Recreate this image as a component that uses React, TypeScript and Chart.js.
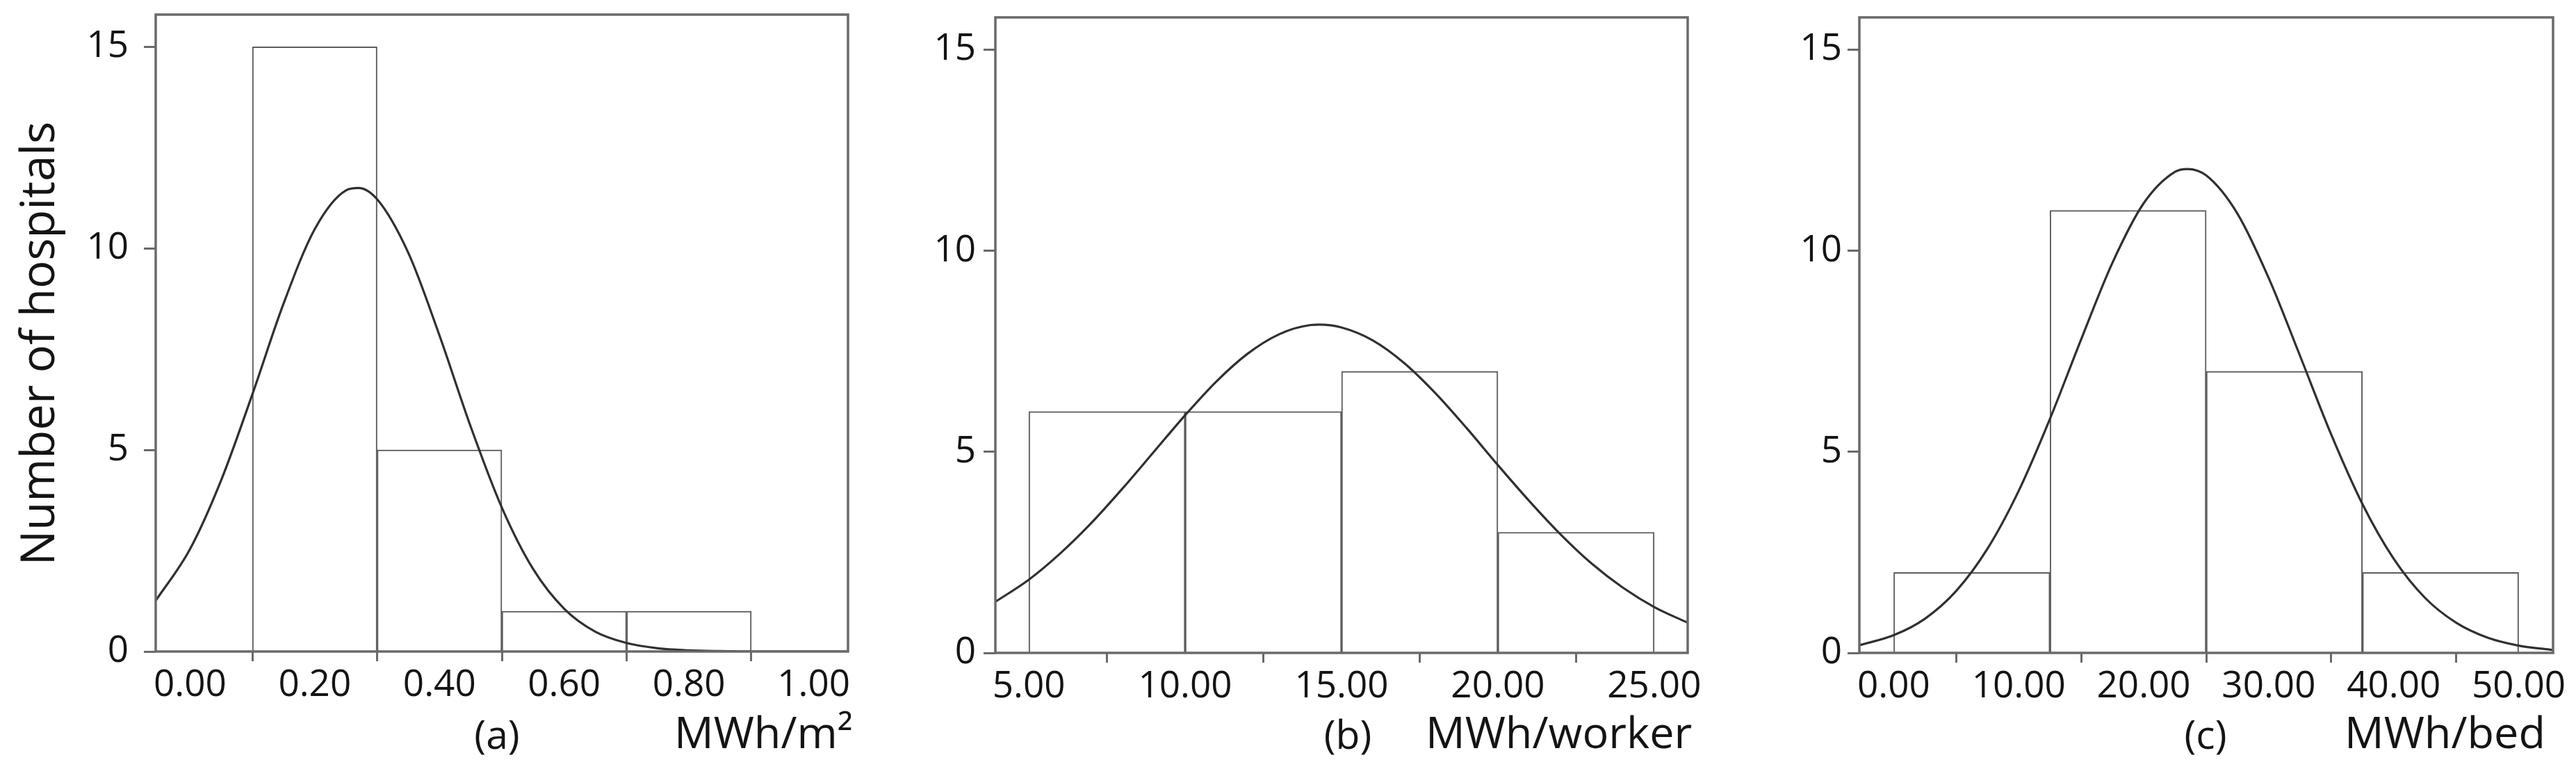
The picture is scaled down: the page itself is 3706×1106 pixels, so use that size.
import React, { useEffect, useRef } from "react";
import { Chart, registerables } from "chart.js";

Chart.register(...registerables);

// ---------- DATA ----------
// Panel (a): energy per floor area (MWh/m²)
const A_BIN_CENTERS = [0.2, 0.4, 0.6, 0.8];
const A_COUNTS = [15, 5, 1, 1];
const A_CURVE_X = [-0.055, 0.0, 0.05, 0.1, 0.15, 0.2, 0.25, 0.27, 0.3, 0.35, 0.4, 0.45, 0.5, 0.55, 0.6, 0.65, 0.7, 0.75, 0.8, 0.85, 0.9, 0.95, 1.0, 1.055];
const A_CURVE_Y = [1.26, 2.54, 4.25, 6.38, 8.63, 10.48, 11.44, 11.5, 11.22, 9.89, 7.84, 5.58, 3.57, 2.05, 1.06, 0.49, 0.21, 0.08, 0.03, 0.01, 0.0, 0.0, 0.0, 0.0];
const A_X_TICKS = [0, 0.2, 0.4, 0.6, 0.8, 1.0];

// Panel (b): energy per worker (MWh/worker)
const B_BIN_CENTERS = [7.5, 12.5, 17.5, 22.5];
const B_COUNTS = [6, 6, 7, 3];
const B_CURVE_X = [3.93, 5, 6, 7, 8, 9, 10, 11, 12, 13, 14, 14.3, 15, 16, 17, 18, 19, 20, 21, 22, 23, 24, 25, 26.07];
const B_CURVE_Y = [1.27, 1.82, 2.47, 3.23, 4.09, 5.0, 5.91, 6.75, 7.44, 7.92, 8.15, 8.16, 8.09, 7.77, 7.21, 6.46, 5.59, 4.67, 3.78, 2.95, 2.22, 1.62, 1.14, 0.75];
const B_X_TICKS = [5, 10, 15, 20, 25];

// Panel (c): energy per bed (MWh/bed)
const C_BIN_CENTERS = [6.25, 18.75, 31.25, 43.75];
const C_COUNTS = [2, 11, 7, 2];
const C_CURVE_X = [-2.75, 0, 2.5, 5, 7.5, 10, 12.5, 15, 17.5, 20, 22.5, 23.5, 25, 27.5, 30, 32.5, 35, 37.5, 40, 42.5, 45, 47.5, 50, 52.5, 52.75];
const C_CURVE_Y = [0.19, 0.44, 0.85, 1.54, 2.59, 4.03, 5.82, 7.8, 9.7, 11.18, 11.96, 12.03, 11.87, 10.92, 9.32, 7.39, 5.43, 3.7, 2.34, 1.37, 0.75, 0.38, 0.18, 0.08, 0.07];
const C_X_TICKS = [0, 10, 20, 30, 40, 50];

const Y_TICKS = [0, 5, 10, 15];
const Y_MAX = 15.8;
const Y_TITLE = "Number of hospitals";
const PANEL_LETTERS = ["(a)", "(b)", "(c)"];
const UNITS = ["MWh/m²", "MWh/worker", "MWh/bed"];

// ---------- STYLE / LAYOUT ----------
const H = 1106;
const FONT = "'Open Sans', 'DejaVu Sans', sans-serif";
const TEXT = "#141414";
const FRAME = "#6a6a6a";
const BAR_LINE = "#5c5c5c";
const CURVE = "#303030";

type TextItem = { text: string; x: number; y: number; size: number; align: CanvasTextAlign; rotate?: boolean };

type PanelCfg = {
  left: number;
  width: number;
  chartLeft: number;
  chartRight: number;
  chartTop: number;
  chartBottom: number;
  xMin: number;
  xMax: number;
  xTicks: number[];
  centers: number[];
  counts: number[];
  curveX: number[];
  curveY: number[];
  yPad: number;
  texts: TextItem[];
};

const PANELS: PanelCfg[] = [
  {
    left: 0, width: 1300,
    chartLeft: 224, chartRight: 1220, chartTop: 21, chartBottom: 937,
    xMin: -0.055, xMax: 1.055, xTicks: A_X_TICKS,
    centers: A_BIN_CENTERS, counts: A_COUNTS, curveX: A_CURVE_X, curveY: A_CURVE_Y,
    yPad: 22,
    texts: [
      { text: Y_TITLE, x: 78, y: 494, size: 67, align: "center", rotate: true },
      { text: PANEL_LETTERS[0], x: 715, y: 1077, size: 57, align: "center" },
      { text: UNITS[0], x: 970, y: 1076, size: 63, align: "left" },
    ],
  },
  {
    left: 1300, width: 1250,
    chartLeft: 132, chartRight: 1128, chartTop: 25, chartBottom: 939,
    xMin: 3.93, xMax: 26.07, xTicks: B_X_TICKS,
    centers: B_BIN_CENTERS, counts: B_COUNTS, curveX: B_CURVE_X, curveY: B_CURVE_Y,
    yPad: 11,
    texts: [
      { text: PANEL_LETTERS[1], x: 1939 - 1300, y: 1077, size: 57, align: "center" },
      { text: UNITS[1], x: 2051 - 1300, y: 1076, size: 63, align: "left" },
    ],
  },
  {
    left: 2550, width: 1156,
    chartLeft: 125, chartRight: 1123, chartTop: 25, chartBottom: 939,
    xMin: -2.75, xMax: 52.75, xTicks: C_X_TICKS,
    centers: C_BIN_CENTERS, counts: C_COUNTS, curveX: C_CURVE_X, curveY: C_CURVE_Y,
    yPad: 8,
    texts: [
      { text: PANEL_LETTERS[2], x: 3173 - 2550, y: 1077, size: 57, align: "center" },
      { text: UNITS[2], x: 3373 - 2550, y: 1076, size: 63, align: "left" },
    ],
  },
];

function makeDecor(cfg: PanelCfg) {
  return {
    id: "panelDecor",
    afterDatasetsDraw(chart: any) {
      const { ctx, chartArea } = chart;
      const { left, top, right, bottom } = chartArea;
      ctx.save();
      ctx.strokeStyle = FRAME;
      ctx.lineWidth = 3.5;
      ctx.strokeRect(left, top, right - left, bottom - top);
      ctx.restore();
    },
    afterDraw(chart: any) {
      const ctx: CanvasRenderingContext2D = chart.ctx;
      ctx.save();
      ctx.fillStyle = TEXT;
      ctx.textBaseline = "alphabetic";
      for (const t of cfg.texts) {
        ctx.font = `${t.size}px ${FONT}`;
        ctx.textAlign = t.align;
        if (t.rotate) {
          ctx.save();
          ctx.translate(t.x, t.y);
          ctx.rotate(-Math.PI / 2);
          ctx.fillText(t.text, 0, 0);
          ctx.restore();
        } else {
          ctx.fillText(t.text, t.x, t.y);
        }
      }
      ctx.restore();
    },
  };
}

function Panel({ cfg }: { cfg: PanelCfg }) {
  const ref = useRef<HTMLCanvasElement>(null);
  useEffect(() => {
    const canvas = ref.current;
    if (!canvas) return;
    const barData = cfg.centers.map((c, i) => ({ x: c, y: cfg.counts[i] }));
    const curveData = cfg.curveX.map((x, i) => ({ x, y: cfg.curveY[i] }));
    const chart = new Chart(canvas, {
      type: "bar",
      data: {
        datasets: [
          {
            type: "line",
            data: curveData,
            borderColor: CURVE,
            borderWidth: 3.2,
            pointRadius: 0,
            fill: false,
            cubicInterpolationMode: "monotone",
            order: 0,
          } as any,
          {
            type: "bar",
            data: barData,
            backgroundColor: "#ffffff",
            borderColor: BAR_LINE,
            borderWidth: 2,
            borderSkipped: "start",
            barThickness: "flex",
            barPercentage: 1,
            categoryPercentage: 1,
            order: 1,
          } as any,
        ],
      },
      options: {
        animation: false,
        responsive: false,
        maintainAspectRatio: false,
        layout: {
          padding: { left: 0, top: cfg.chartTop, right: cfg.width - cfg.chartRight, bottom: 0 },
        },
        plugins: {
          legend: { display: false },
          tooltip: { enabled: false },
          title: { display: false },
        },
        scales: {
          x: {
            type: "linear",
            min: cfg.xMin,
            max: cfg.xMax,
            offset: false,
            afterBuildTicks: (s: any) => {
              s.ticks = cfg.xTicks.map((v) => ({ value: v }));
            },
            afterFit: (s: any) => {
              s.height = H - cfg.chartBottom;
              s.paddingLeft = 0;
              s.paddingRight = 0;
            },
            ticks: {
              autoSkip: false,
              maxRotation: 0,
              minRotation: 0,
              padding: 3,
              color: TEXT,
              font: { family: FONT, size: 53 },
              callback: (v: any) => Number(v).toFixed(2),
            },
            grid: {
              drawOnChartArea: false,
              drawTicks: true,
              tickLength: 14,
              tickWidth: 3,
              tickColor: FRAME,
            },
            border: { display: false },
          },
          y: {
            type: "linear",
            min: 0,
            max: Y_MAX,
            afterBuildTicks: (s: any) => {
              s.ticks = Y_TICKS.map((v) => ({ value: v }));
            },
            afterFit: (s: any) => {
              s.width = cfg.chartLeft;
              s.paddingTop = 0;
              s.paddingBottom = 0;
            },
            ticks: {
              padding: cfg.yPad,
              color: TEXT,
              font: { family: FONT, size: 53 },
              callback: (v: any) => String(v),
            },
            grid: {
              drawOnChartArea: false,
              drawTicks: true,
              tickLength: 17,
              tickWidth: 3,
              tickColor: FRAME,
            },
            border: { display: false },
          },
        },
      } as any,
      plugins: [makeDecor(cfg)],
    });
    return () => chart.destroy();
  }, [cfg]);

  return (
    <div style={{ position: "absolute", left: cfg.left, top: 0, width: cfg.width, height: H }}>
      <canvas ref={ref} width={cfg.width} height={H} style={{ width: cfg.width, height: H, display: "block" }} />
    </div>
  );
}

export default function App() {
  return (
    <div style={{ position: "fixed", left: 0, top: 0, width: 3706, height: H, background: "#ffffff", overflow: "hidden" }}>
      {PANELS.map((p, i) => (
        <Panel key={i} cfg={p} />
      ))}
    </div>
  );
}
